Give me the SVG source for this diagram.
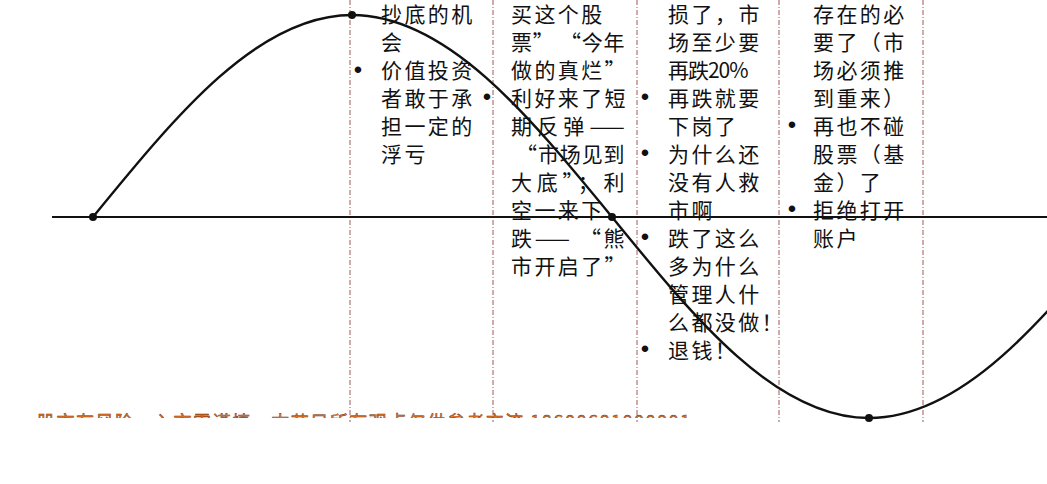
<svg xmlns="http://www.w3.org/2000/svg" width="1047" height="484" viewBox="0 0 1047 484">
<style>
.t{font-family:"Noto Sans CJK SC","Noto Sans",sans-serif;font-size:21px;letter-spacing:2.4px;fill:#111}
.b{font-family:"Liberation Sans",sans-serif;font-size:24px;fill:#111;text-anchor:middle}
.dash{stroke:#a05a5a;stroke-width:1;stroke-dasharray:5 2 1 2;fill:none}
.foot{font-family:"Noto Sans CJK SC","Liberation Sans",sans-serif;font-size:18px;fill:#f07828;stroke:#6a3010;stroke-width:0.45}
</style>
<defs>
<clipPath id="footclip"><rect x="0" y="0" width="1047" height="418"/></clipPath>
</defs>
<rect width="1047" height="484" fill="#fff"/>
<g id="dividers">
<line class="dash" x1="350" y1="0" x2="350" y2="422"/>
<line class="dash" x1="493" y1="0" x2="493" y2="422"/>
<line class="dash" x1="637" y1="0" x2="637" y2="422"/>
<line class="dash" x1="779" y1="0" x2="779" y2="422"/>
<line class="dash" x1="923" y1="0" x2="923" y2="422"/>
</g>
<g id="connectors">
<line id="axis" x1="52" y1="217" x2="1047" y2="217" stroke="#111" stroke-width="2.2"/>
<path id="curve" d="M93,217 C177.5,113.5 258.3,15 352,15 C446.1,15 527.2,113.5 612,217 C695.8,320 776,418 869,418 C962.7,418 1043.5,320 1128,217" fill="none" stroke="#111" stroke-width="2.4"/>
<circle cx="93" cy="217" r="4" fill="#111"/>
<circle cx="352" cy="15" r="4" fill="#111"/>
<circle cx="612" cy="217" r="4" fill="#111"/>
<circle cx="869" cy="418" r="4" fill="#111"/>
</g>
<g id="col1">
<text class="t" x="381" y="22">抄底的机</text>
<text class="t" x="381" y="50">会</text>
<text class="b" x="358" y="78">•</text>
<text class="t" x="381" y="78">价值投资</text>
<text class="t" x="381" y="106">者敢于承</text>
<text class="t" x="381" y="134">担一定的</text>
<text class="t" x="381" y="162">浮亏</text>
</g>
<g id="col2">
<text class="t" x="511" y="22">买这个股</text>
<text class="t" x="511" y="50" textLength="116" lengthAdjust="spacing">票” “今年</text>
<text class="t" x="511" y="78">做的真烂”</text>
<text class="b" x="487" y="105">•</text>
<text class="t" x="511" y="106">利好来了短</text>
<text class="t" x="511" y="134" textLength="116" lengthAdjust="spacing">期反弹——</text>
<text class="t" x="516" y="162" textLength="111" lengthAdjust="spacing">“市场见到</text>
<text class="t" x="511" y="190" textLength="116" lengthAdjust="spacing">大底”；利</text>
<text class="t" x="511" y="218">空一来下</text>
<text class="t" x="511" y="246" textLength="116" lengthAdjust="spacing">跌—— “熊</text>
<text class="t" x="511" y="274">市开启了”</text>
</g>
<g id="col3">
<text class="t" x="668" y="22" textLength="94" lengthAdjust="spacing">损了，市</text>
<text class="t" x="668" y="50">场至少要</text>
<text class="t" x="668" y="78" textLength="83" lengthAdjust="spacing">再跌20%</text>
<text class="b" x="645" y="105">•</text>
<text class="t" x="668" y="106">再跌就要</text>
<text class="t" x="668" y="134">下岗了</text>
<text class="b" x="645" y="161">•</text>
<text class="t" x="668" y="162">为什么还</text>
<text class="t" x="668" y="190">没有人救</text>
<text class="t" x="668" y="218">市啊</text>
<text class="b" x="645" y="245">•</text>
<text class="t" x="668" y="246">跌了这么</text>
<text class="t" x="668" y="274">多为什么</text>
<text class="t" x="668" y="302">管理人什</text>
<text class="t" x="668" y="330">么都没做！</text>
<text class="b" x="645" y="357">•</text>
<text class="t" x="668" y="358">退钱！</text>
</g>
<g id="col4">
<text class="t" x="813" y="22">存在的必</text>
<text class="t" x="813" y="50">要了（市</text>
<text class="t" x="813" y="78">场必须推</text>
<text class="t" x="813" y="106">到重来）</text>
<text class="b" x="792" y="133">•</text>
<text class="t" x="813" y="134">再也不碰</text>
<text class="t" x="813" y="162">股票（基</text>
<text class="t" x="813" y="190">金）了</text>
<text class="b" x="792" y="217">•</text>
<text class="t" x="813" y="218">拒绝打开</text>
<text class="t" x="813" y="246">账户</text>
</g>
<g id="footer" clip-path="url(#footclip)">
<text class="foot" x="37" y="429" textLength="653" lengthAdjust="spacing">股市有风险，入市需谨慎，本节目所有观点仅供参考交流 18600681000001</text>
</g>
</svg>
